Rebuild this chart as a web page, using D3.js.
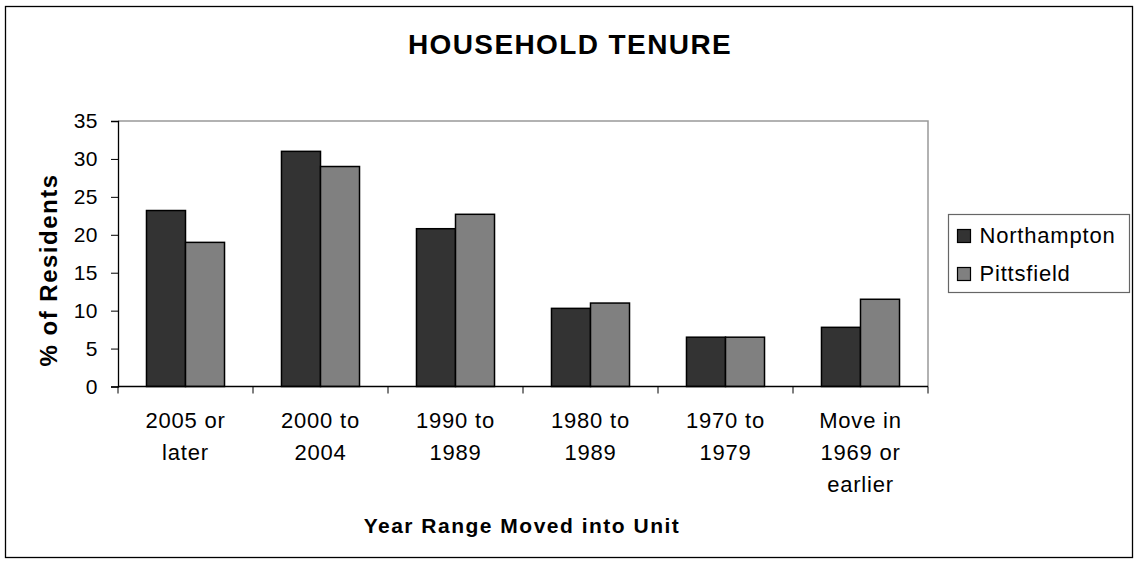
<!DOCTYPE html>
<html>
<head>
<meta charset="utf-8">
<script src="https://cdn.jsdelivr.net/npm/d3@7"></script>
<style>
  body { margin: 0; background: #fff; }
  svg { font-family: "Liberation Sans", Arial, sans-serif; }
</style>
</head>
<body>
<svg id="chart" width="1138" height="565"></svg>
<script>
// categories (multi-line labels)
const categories = [
  ['2005 or', 'later'],
  ['2000 to', '2004'],
  ['1990 to', '1989'],
  ['1980 to', '1989'],
  ['1970 to', '1979'],
  ['Move in', '1969 or', 'earlier']
];
const seriesNames = ['Northampton', 'Pittsfield'];
const northampton = [23.2, 31.0, 20.8, 10.3, 6.5, 7.8];
const pittsfield = [19.0, 29.0, 22.7, 11.0, 6.5, 11.5];
const yTicks = [0, 5, 10, 15, 20, 25, 30, 35];

const colors = ['#333333', '#808080'];
const svg = d3.select('#chart');

// plot area
const plot = { left: 118, top: 121, right: 928, bottom: 386.5 };

const x0 = d3.scaleBand()
  .domain(d3.range(categories.length))
  .range([plot.left, plot.right])
  .paddingInner(0).paddingOuter(0);
const x1 = d3.scaleBand()
  .domain(seriesNames)
  .range([0, x0.bandwidth()])
  .paddingInner(0).paddingOuter(0.73);
const y = d3.scaleLinear().domain([0, 35]).range([plot.bottom, plot.top]);

// outer frame
svg.append('rect')
  .attr('x', 5.5).attr('y', 6.5).attr('width', 1127).attr('height', 551)
  .attr('fill', 'none').attr('stroke', '#000').attr('stroke-width', 1.3);

// plot border (top & right in grey)
svg.append('path')
  .attr('d', `M${plot.left},${plot.top}H${plot.right}V${plot.bottom}`)
  .attr('fill', 'none').attr('stroke', '#999').attr('stroke-width', 1.5);

// title
svg.append('text')
  .attr('x', 570).attr('y', 54)
  .attr('text-anchor', 'middle')
  .attr('font-size', 28).attr('font-weight', 'bold')
  .attr('letter-spacing', 1.4)
  .text('HOUSEHOLD TENURE');

// bars
const data = categories.map((c, i) => ({ i, values: [northampton[i], pittsfield[i]] }));
const groups = svg.append('g').selectAll('g')
  .data(data).join('g')
  .attr('transform', d => `translate(${x0(d.i)},0)`);
groups.selectAll('rect')
  .data(d => d.values.map((v, k) => ({ name: seriesNames[k], v, k })))
  .join('rect')
  .attr('x', d => x1(d.name))
  .attr('y', d => y(d.v))
  .attr('width', x1.bandwidth())
  .attr('height', d => y(0) - y(d.v))
  .attr('fill', d => colors[d.k])
  .attr('stroke', '#000').attr('stroke-width', 1.5);

// y axis
const yAxis = svg.append('g')
  .attr('transform', `translate(${plot.left},0)`)
  .call(d3.axisLeft(y).tickValues(yTicks).tickSize(7).tickPadding(13));
yAxis.select('.domain').attr('stroke', '#000').attr('stroke-width', 1.3);
yAxis.selectAll('.tick line').attr('stroke', '#000');
yAxis.selectAll('.tick text')
  .attr('font-size', 21).attr('fill', '#000')
  .attr('letter-spacing', 0.5)
  .attr('font-family', '"Liberation Sans", Arial, sans-serif');

// x axis: ticks at category boundaries
const boundaries = d3.range(categories.length + 1).map(i =>
  i < categories.length ? x0(i) : x0(categories.length - 1) + x0.bandwidth());
svg.append('line')
  .attr('x1', plot.left).attr('x2', plot.right)
  .attr('y1', plot.bottom).attr('y2', plot.bottom)
  .attr('stroke', '#000').attr('stroke-width', 1.3);
svg.append('g').selectAll('line')
  .data(boundaries).join('line')
  .attr('x1', d => d).attr('x2', d => d)
  .attr('y1', plot.bottom).attr('y2', plot.bottom + 7)
  .attr('stroke', '#000').attr('stroke-width', 1);

// category labels
const labels = svg.append('g').selectAll('text')
  .data(categories).join('text')
  .attr('x', (d, i) => x0(i) + x0.bandwidth() / 2)
  .attr('y', 428)
  .attr('text-anchor', 'middle')
  .attr('font-size', 22)
  .attr('letter-spacing', 0.8);
labels.selectAll('tspan')
  .data(d => d).join('tspan')
  .attr('x', function () { return this.parentNode.getAttribute('x'); })
  .attr('dy', (d, j) => j === 0 ? 0 : 32)
  .text(d => d);

// axis titles
svg.append('text')
  .attr('x', 522).attr('y', 533)
  .attr('text-anchor', 'middle')
  .attr('font-size', 21).attr('font-weight', 'bold')
  .attr('letter-spacing', 1.5)
  .text('Year Range Moved into Unit');
svg.append('text')
  .attr('transform', 'translate(57,270) rotate(-90)')
  .attr('text-anchor', 'middle')
  .attr('font-size', 24).attr('font-weight', 'bold')
  .attr('letter-spacing', 1.5)
  .text('% of Residents');

// legend
const legend = svg.append('g').attr('transform', 'translate(948.5,214.5)');
legend.append('rect')
  .attr('width', 181).attr('height', 78)
  .attr('fill', '#fff').attr('stroke', '#666').attr('stroke-width', 1.2);
const items = legend.selectAll('g.item')
  .data(seriesNames).join('g')
  .attr('class', 'item')
  .attr('transform', (d, i) => `translate(9,${i * 38 + 15})`);
items.append('rect')
  .attr('width', 13).attr('height', 13)
  .attr('fill', (d, i) => colors[i])
  .attr('stroke', '#000').attr('stroke-width', 1.2);
items.append('text')
  .attr('x', 22).attr('y', 13)
  .attr('font-size', 22)
  .attr('letter-spacing', 0.8)
  .text(d => d);
</script>
</body>
</html>
